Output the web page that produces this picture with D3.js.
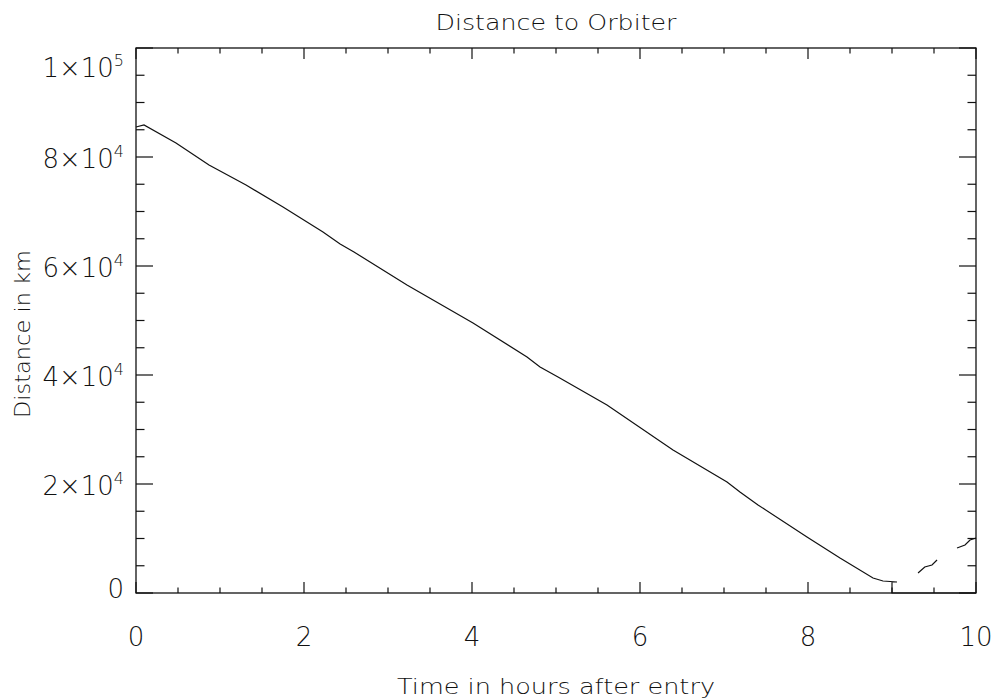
<!DOCTYPE html>
<html><head><meta charset="utf-8">
<script src="https://cdn.jsdelivr.net/npm/d3@7"></script>
<style>
body{margin:0;background:#fff;}
text{font-family:"DejaVu Sans",sans-serif;font-weight:200;fill:#111;}
</style></head><body>
<svg id="c" width="994" height="698"></svg>
<script>
// Data (hours, km)
const seg1 = [[0,85500],[0.095,85870],[0.476,82570],[0.869,78530],[1.31,74860],[1.75,70830],[2.226,66240],[2.43,64040],[2.595,62570],[3.226,56510],[4.012,49540],[4.655,43300],[4.81,41470],[5.024,39630],[5.607,34500],[6.393,26240],[7.036,20370],[7.19,18530],[7.405,16150],[7.988,10280],[8.381,6420],[8.774,2750],[8.893,2200],[9.06,2020],[9.0,2020],[9.0,0],[10,0]];
const seg2 = [[9.31,3670],[9.39,4770],[9.476,5140],[9.536,6060]];
const seg3 = [[9.774,8260],[9.869,8810],[9.929,9730],[10.0,10090]];
const segments = [seg1, seg2, seg3];
const xTicks = [0,2,4,6,8,10];
const xMinor = d3.range(0,10.01,0.5);
const yTicks = [0,20000,40000,60000,80000,100000];
const yMinor = d3.range(0,100001,5000);
const yTickLabels = ["0",["2","4"],["4","4"],["6","4"],["8","4"],["1","5"]];

const L=136,R=976,T=48,B=593;
const svg=d3.select("#c");
const x=d3.scaleLinear().domain([0,10]).range([L,R]);
const y=d3.scaleLinear().domain([0,100000]).range([B,T]);
const col="#111";

// frame
svg.append("rect").attr("x",L).attr("y",T).attr("width",R-L).attr("height",B-T)
  .attr("fill","none").attr("stroke",col).attr("stroke-width",1.3);

const xLen=11, yLen=17;
const g=svg.append("g").attr("stroke",col).attr("stroke-width",1.2);
xMinor.forEach(v=>{
  const major = Math.abs(v-Math.round(v/2)*2)<1e-6;
  const l = major?xLen:xLen/2;
  g.append("line").attr("x1",x(v)).attr("x2",x(v)).attr("y1",B).attr("y2",B-l);
  g.append("line").attr("x1",x(v)).attr("x2",x(v)).attr("y1",T).attr("y2",T+l);
});
yMinor.forEach(v=>{
  const major = v%20000===0;
  const l = major?yLen:yLen/2;
  g.append("line").attr("y1",y(v)).attr("y2",y(v)).attr("x1",L).attr("x2",L+l);
  g.append("line").attr("y1",y(v)).attr("y2",y(v)).attr("x1",R).attr("x2",R-l);
});

xTicks.forEach(v=>{
  svg.append("text").attr("x",x(v)).attr("y",646).attr("text-anchor","middle")
    .attr("font-size",26).text(v);
});
yTicks.forEach((v,i)=>{
  const lab=yTickLabels[i];
  const off = i===yTicks.length-1 ? 29 : (i===0 ? 5 : 11);
  const t=svg.append("text").attr("x",124).attr("y",y(v)+off).attr("text-anchor","end").attr("font-size",26);
  if(typeof lab==="string"){ t.text(lab); }
  else {
    t.append("tspan").text(lab[0]+"\u00d710");
    t.append("tspan").attr("dy",-11).attr("font-size",16).text(lab[1]);
  }
});

svg.append("text").attr("x",556).attr("y",30).attr("text-anchor","middle").attr("font-size",22)
  .attr("textLength",241).attr("lengthAdjust","spacingAndGlyphs").text("Distance to Orbiter");
svg.append("text").attr("x",556).attr("y",694).attr("text-anchor","middle").attr("font-size",22)
  .attr("textLength",318).attr("lengthAdjust","spacingAndGlyphs").text("Time in hours after entry");
svg.append("text").attr("transform","translate(30,334) rotate(-90)").attr("text-anchor","middle").attr("font-size",22)
  .attr("textLength",168).attr("lengthAdjust","spacingAndGlyphs").text("Distance in km");

const line=d3.line().x(d=>x(d[0])).y(d=>y(d[1]));
segments.forEach(s=>{
  svg.append("path").attr("d",line(s)).attr("fill","none").attr("stroke",col).attr("stroke-width",1.2);
});
</script></body></html>
